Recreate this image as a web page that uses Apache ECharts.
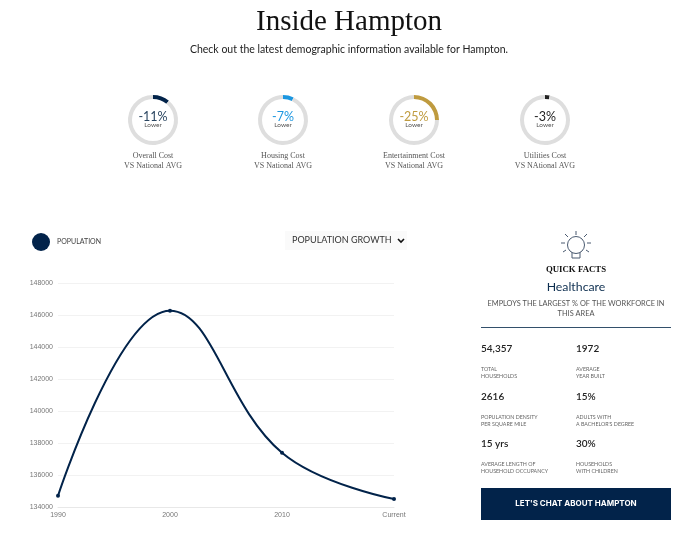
<!DOCTYPE html>
<html>
<head>
<meta charset="utf-8">
<style>
  html, body { margin: 0; padding: 0; background: #fff; }
  #main { width: 688px; height: 537px; }
</style>
<script src="https://cdn.jsdelivr.net/npm/echarts@6/dist/echarts.min.js"></script>
</head>
<body>
<div id="main"></div>
<script>
var years = ["1990", "2000", "2010", "Current"];
var population = [134700, 146300, 137400, 134500];

var costNames = ["Overall Cost", "Housing Cost", "Entertainment Cost", "Utilities Cost"];
var costSubs = ["VS National AVG", "VS National AVG", "VS National AVG", "VS NAtional AVG"];
var costValues = [11, 7, 25, 3];
var costColors = ["#02234a", "#1b96e0", "#bf9b3f", "#222222"];
var costCenters = [153, 283, 414, 545];

var factValues = ["54,357", "1972", "2616", "15%", "15 yrs", "30%"];
var factLabels = [
  ["TOTAL", "HOUSEHOLDS"],
  ["AVERAGE", "YEAR BUILT"],
  ["POPULATION DENSITY", "PER SQUARE MILE"],
  ["ADULTS WITH", "A BACHELOR'S DEGREE"],
  ["AVERAGE LENGTH OF", "HOUSEHOLD OCCUPANCY"],
  ["HOUSEHOLDS", "WITH CHILDREN"],
];

var navy = "#02234a";
var serif = "'Liberation Serif', serif";
var sans = "Lato, 'Noto Sans', sans-serif";

function txt(x, y, text, size, color, family, align, weight) {
  return {
    type: "text",
    silent: true,
    style: {
      x: x,
      y: y,
      text: text,
      fontSize: size,
      fill: color,
      fontFamily: family || sans,
      fontWeight: weight || "normal",
      align: align || "left",
      verticalAlign: "middle",
    },
  };
}

var graphics = [
  txt(349, 22, "Inside Hampton", 29, "#111", serif, "center"),
  txt(349, 50, "Check out the latest demographic information available for Hampton.", 10.5, "#222", sans, "center"),
  // fake select box
  { type: "rect", silent: true, shape: { x: 285, y: 231, width: 122, height: 19 }, style: { fill: "#fafafa" } },
  txt(292, 240.5, "POPULATION GROWTH", 9, "#333", sans),
  { type: "polyline", silent: true, shape: { points: [[398, 239], [401, 242], [404, 239]] }, style: { stroke: "#111", lineWidth: 1.6, fill: null } },
  // light bulb
  { type: "circle", silent: true, shape: { cx: 576, cy: 245, r: 8.5 }, style: { stroke: "#4a5a70", lineWidth: 1, fill: "none" } },
  { type: "polyline", silent: true, shape: { points: [[572, 252], [572, 258], [580, 258], [580, 252]] }, style: { stroke: "#4a5a70", lineWidth: 1, fill: null } },
  txt(576, 269.5, "QUICK FACTS", 8.8, "#111", serif, "center", "bold"),
  txt(576, 287.5, "Healthcare", 12.3, "#0e2f50", sans, "center"),
  txt(576, 303.5, "EMPLOYS THE LARGEST % OF THE WORKFORCE IN", 7.4, "#555", sans, "center"),
  txt(576, 313.5, "THIS AREA", 7.4, "#555", sans, "center"),
  { type: "rect", silent: true, shape: { x: 481, y: 327, width: 190, height: 1 }, style: { fill: "#33506b" } },
  { type: "rect", silent: true, shape: { x: 481, y: 488, width: 190, height: 32 }, style: { fill: navy } },
  txt(576, 503.5, "LET'S CHAT ABOUT HAMPTON", 8, "#fff", "Inter, sans-serif", "center", "bold"),
];

// bulb rays
[[576, 231, 576, 235], [565, 234, 568, 237], [587, 234, 584, 237], [561, 243, 565, 243], [591, 243, 587, 243], [563, 252, 566, 250], [589, 252, 586, 250]].forEach(function (r) {
  graphics.push({ type: "line", silent: true, shape: { x1: r[0], y1: r[1], x2: r[2], y2: r[3] }, style: { stroke: "#4a5a70", lineWidth: 1 } });
});

costNames.forEach(function (name, i) {
  var cx = costCenters[i];
  graphics.push(txt(cx, 117, "-" + costValues[i] + "%", 12.5, costColors[i] == "#02234a" ? "#2a4560" : costColors[i], sans, "center"));
  graphics.push(txt(cx, 125, "Lower", 6.5, "#555", sans, "center"));
  graphics.push(txt(cx, 156, name, 8, "#555", serif, "center"));
  graphics.push(txt(cx, 166, costSubs[i], 8, "#555", serif, "center"));
});

factValues.forEach(function (v, i) {
  var x = i % 2 ? 576 : 481;
  var row = Math.floor(i / 2);
  var y = 349 + row * 47.5;
  graphics.push(txt(x, y, v, 10, "#222", sans, "left", "600"));
  graphics.push(txt(x, y + 20.5, factLabels[i][0], 5.3, "#666", sans));
  graphics.push(txt(x, y + 27.5, factLabels[i][1], 5.3, "#666", sans));
});

var ringSeries = costValues.map(function (v, i) {
  return {
    type: "pie",
    silent: true,
    center: [costCenters[i], 120],
    radius: [21, 25],
    startAngle: 90,
    label: { show: false },
    labelLine: { show: false },
    itemStyle: { borderRadius: 0 },
    data: [
      { value: v, itemStyle: { color: costColors[i] } },
      { value: 100 - v, itemStyle: { color: "#dedede" } },
    ],
  };
});

var myChart = echarts.init(document.getElementById("main"));

myChart.setOption({
  animation: false,
  backgroundColor: "#fff",
  legend: {
    left: 27,
    top: 228,
    icon: "circle",
    itemWidth: 18,
    itemHeight: 18,
    itemGap: 8,
    data: ["POPULATION"],
    textStyle: { fontSize: 7, color: "#444", fontFamily: sans, padding: [0, 0, 0, 2] },
  },
  grid: { left: 58, right: 294, top: 283.5, bottom: 30 },
  xAxis: {
    type: "category",
    boundaryGap: false,
    data: years,
    axisLine: { lineStyle: { color: "#e8e8e8" } },
    axisTick: { show: false },
    axisLabel: { fontSize: 7, color: "#777", fontFamily: "'Liberation Sans', sans-serif", margin: 5 },
    splitLine: { show: false },
  },
  yAxis: {
    type: "value",
    min: 134000,
    max: 148000,
    interval: 2000,
    axisLine: { show: false },
    axisTick: { show: false },
    axisLabel: {
      fontSize: 7,
      color: "#777",
      fontFamily: "'Liberation Sans', sans-serif",
      margin: 5,
      formatter: function (v) {
        return String(v);
      },
    },
    splitLine: { lineStyle: { color: "#f2f2f2" } },
  },
  series: [
    {
      name: "POPULATION",
      type: "line",
      data: population,
      smooth: 0.42,
      symbol: "circle",
      symbolSize: 4,
      color: navy,
      lineStyle: { width: 2, color: navy },
      itemStyle: { color: navy },
    },
  ].concat(ringSeries),
  graphic: graphics,
});
</script>
</body>
</html>
